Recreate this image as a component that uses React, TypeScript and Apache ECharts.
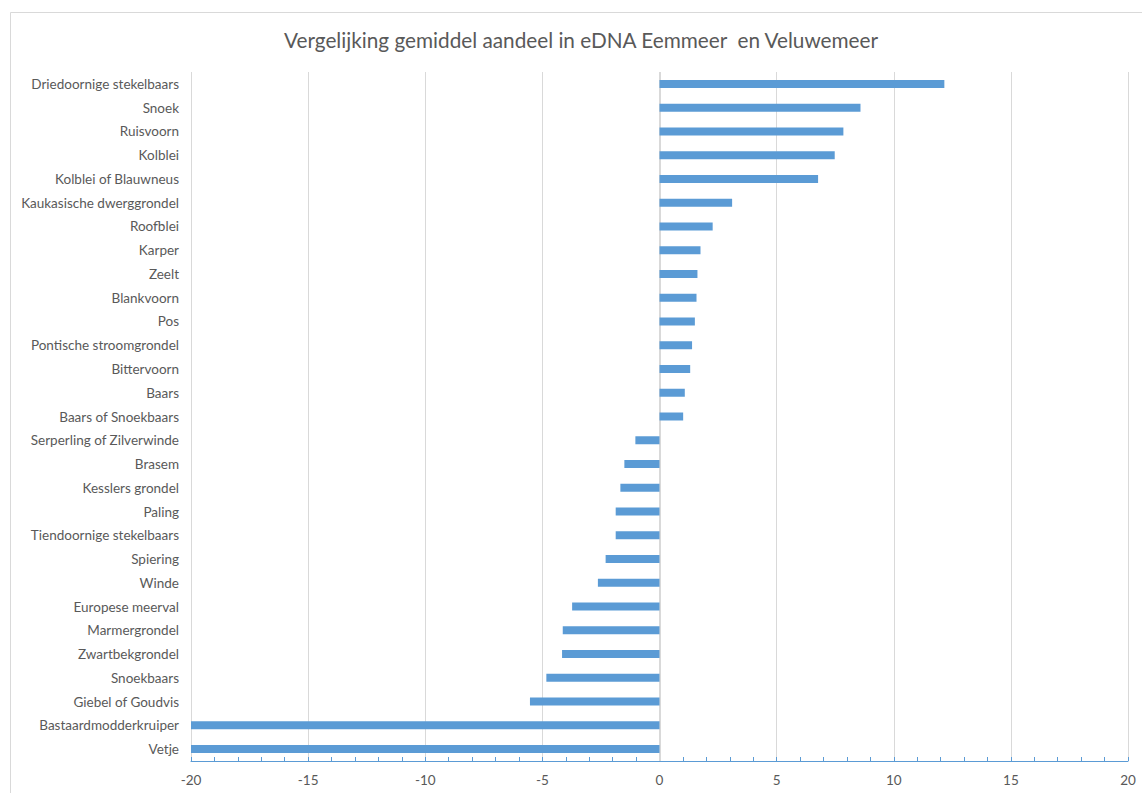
import React, { useEffect, useRef } from "react";
import * as echarts from "echarts";

const categories = [
  "Driedoornige stekelbaars",
  "Snoek",
  "Ruisvoorn",
  "Kolblei",
  "Kolblei of Blauwneus",
  "Kaukasische dwerggrondel",
  "Roofblei",
  "Karper",
  "Zeelt",
  "Blankvoorn",
  "Pos",
  "Pontische stroomgrondel",
  "Bittervoorn",
  "Baars",
  "Baars of Snoekbaars",
  "Serperling of Zilverwinde",
  "Brasem",
  "Kesslers grondel",
  "Paling",
  "Tiendoornige stekelbaars",
  "Spiering",
  "Winde",
  "Europese meerval",
  "Marmergrondel",
  "Zwartbekgrondel",
  "Snoekbaars",
  "Giebel of Goudvis",
  "Bastaardmodderkruiper",
  "Vetje",
];

const values = [
  12.16, 8.58, 7.85, 7.48, 6.77, 3.1, 2.27, 1.75, 1.62, 1.58, 1.51, 1.39, 1.31,
  1.08, 1.01, -1.03, -1.5, -1.67, -1.87, -1.87, -2.3, -2.63, -3.73, -4.13,
  -4.16, -4.83, -5.53, -20, -20,
];

const xMin = -20;
const xMax = 20;
const xInterval = 5;

const title = "Vergelijking gemiddel aandeel in eDNA Eemmeer  en Veluwemeer";

const FONT = "Lato, 'Noto Sans', sans-serif";
const TEXT = "#595959";
const BAR = "#5B9BD5";
const GRID = "#D9D9D9";

export default function App() {
  const ref = useRef<HTMLDivElement>(null);
  useEffect(() => {
    document.body.style.margin = "0";
    const chart = echarts.init(ref.current!, null, { renderer: "svg" });
    chart.setOption({
      animation: false,
      backgroundColor: "#ffffff",
      title: {
        text: title,
        left: 279,
        top: 24,
        textStyle: { color: TEXT, fontFamily: FONT, fontSize: 20.75, fontWeight: "normal" },
      },
      graphic: [
        {
          type: "rect",
          shape: { x: 10.5, y: 12.5, width: 1140, height: 800 },
          style: { fill: "none", stroke: GRID, lineWidth: 1 },
          silent: true,
        },
      ],
      grid: { left: 191, right: 14, top: 72, bottom: 32 },
      xAxis: {
        type: "value",
        min: xMin,
        max: xMax,
        interval: xInterval,
        axisLine: { show: true, onZero: false, lineStyle: { color: BAR, width: 1 } },
        axisTick: { show: true, inside: true, length: 4, lineStyle: { color: BAR } },
        minorTick: { show: true, splitNumber: 5, length: 4, lineStyle: { color: BAR } },
        splitLine: { show: true, lineStyle: { color: GRID, width: 1 } },
        axisLabel: { color: TEXT, fontFamily: FONT, fontSize: 13.5, margin: 12 },
      },
      yAxis: {
        type: "category",
        data: categories,
        inverse: true,
        axisLine: { show: false, onZero: false },
        axisTick: { show: false },
        splitLine: { show: false },
        axisLabel: { color: TEXT, fontFamily: FONT, fontSize: 13.5, margin: 12 },
      },
      series: [
        {
          type: "bar",
          data: values,
          barWidth: 8,
          itemStyle: { color: BAR },
          markLine: {
            silent: true,
            symbol: "none",
            label: { show: false },
            lineStyle: { color: GRID, width: 2, type: "solid" },
            data: [{ xAxis: 0 }],
            z: 1,
          },
        },
      ],
    });
    return () => chart.dispose();
  }, []);
  return <div ref={ref} style={{ width: 1142, height: 793 }} />;
}
